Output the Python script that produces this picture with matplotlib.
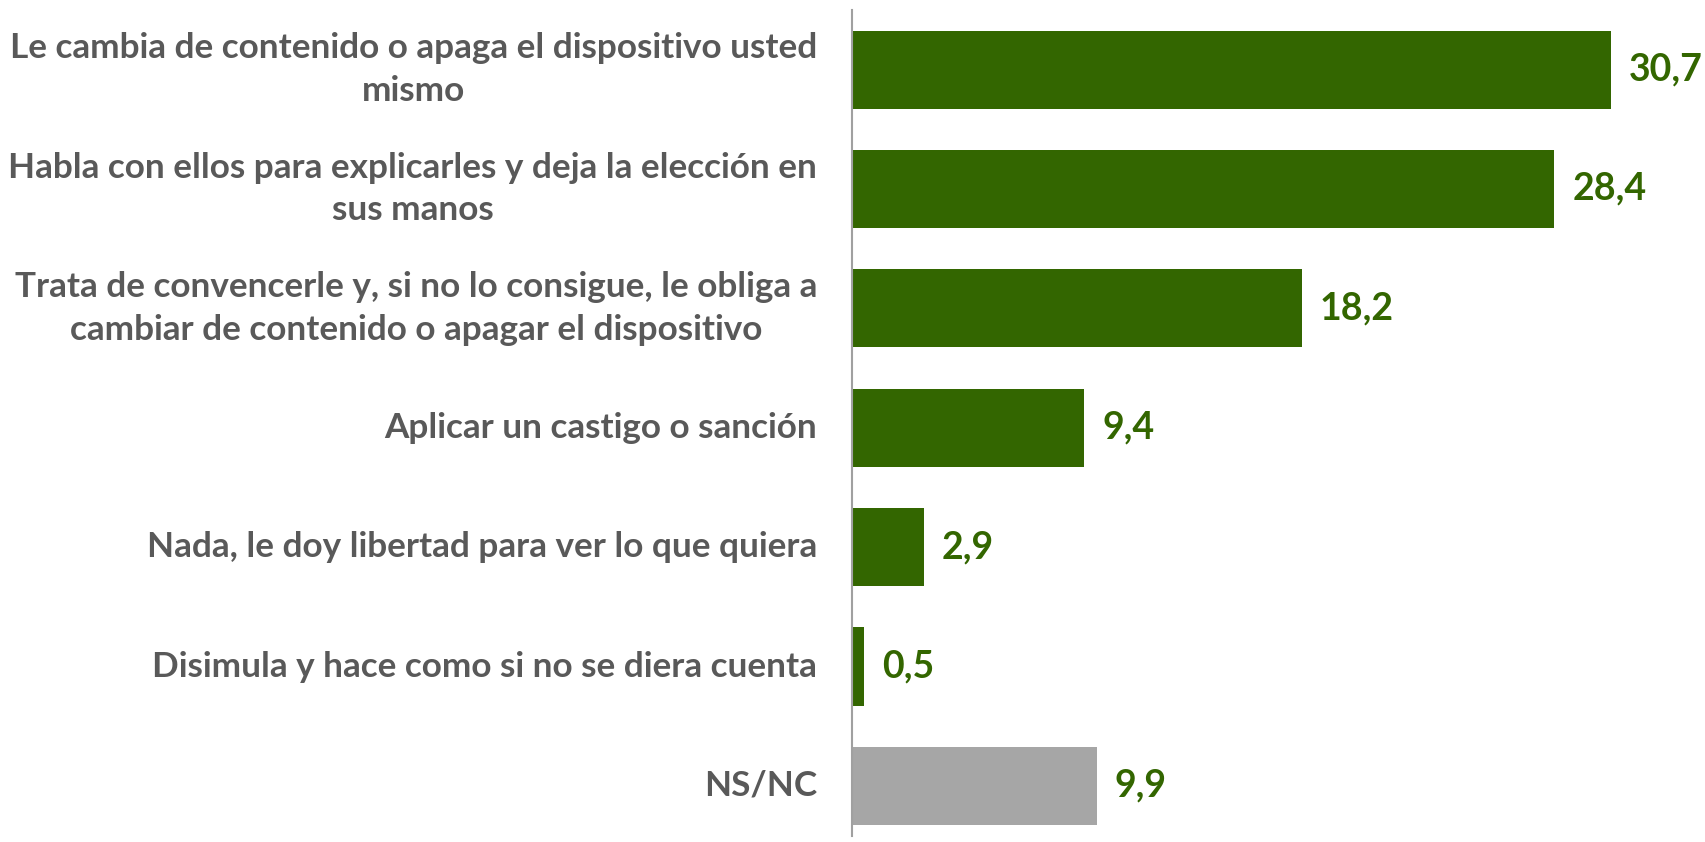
import matplotlib.pyplot as plt

categories = [
    "Le cambia de contenido o apaga el dispositivo usted\nmismo",
    "Habla con ellos para explicarles y deja la elección en\nsus manos",
    "Trata de convencerle y, si no lo consigue, le obliga a\ncambiar de contenido o apagar el dispositivo",
    "Aplicar un castigo o sanción",
    "Nada, le doy libertad para ver lo que quiera",
    "Disimula y hace como si no se diera cuenta",
    "NS/NC",
]
values = [30.7, 28.4, 18.2, 9.4, 2.9, 0.5, 9.9]
value_labels = ["30,7", "28,4", "18,2", "9,4", "2,9", "0,5", "9,9"]

green = "#336600"
gray = "#a6a6a6"
colors = [green] * 6 + [gray]

plt.rcParams['font.family'] = ['Lato', 'DejaVu Sans']

fig = plt.figure(figsize=(17.05, 8.42), dpi=100)
ax = fig.add_axes([852 / 1705, 0, 1 - 852 / 1705, 1])

pos = list(range(len(categories)))
ax.barh(pos, values, height=0.655, color=colors)
ax.set_ylim(6.47, -0.583)
ax.set_xlim(0, 34.5)

for p, v, t in zip(pos, values, value_labels):
    ax.annotate(t, (v, p), xytext=(13, 0), textcoords='offset points',
                va='center', ha='left', fontsize=27, fontweight='bold',
                color=green)

for p, c in zip(pos, categories):
    ax.annotate(c, (0, p), xytext=(-25, 0), textcoords='offset points',
                va='center', ha='right', ma='center', fontsize=25.3,
                fontweight='bold', color='#595959', linespacing=1.42)

ax.set_yticks([])
ax.set_xticks([])
for s in ['top', 'right', 'bottom']:
    ax.spines[s].set_visible(False)
ax.spines['left'].set_color('#a0a0a0')
ax.spines['left'].set_linewidth(1.5)
ax.spines['left'].set_bounds(-0.5, 6.42)

fig.savefig("out.png", dpi=100)
